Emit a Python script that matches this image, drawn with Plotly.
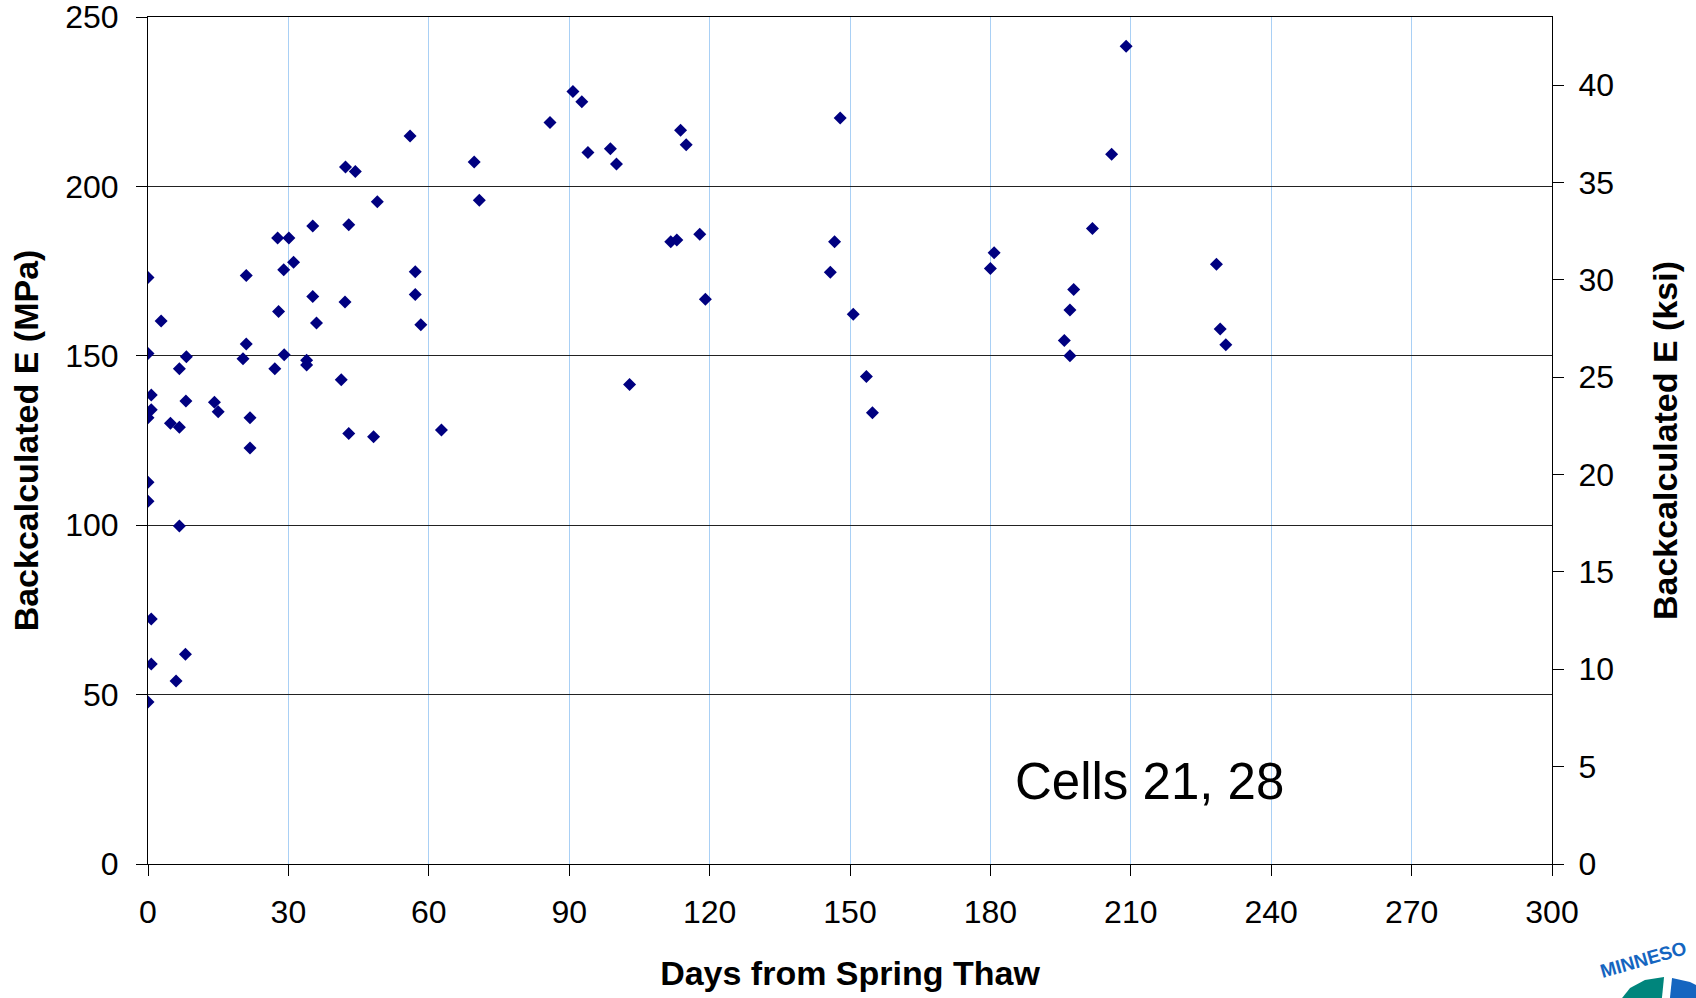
import plotly.graph_objects as go

# ---- data ----
days = [0, 2.8, 0, 8.2, 6.7, 0.7, 8.1, 0.7, 0, 4.8, 6.7, 0, 0, 6.7, 0.7, 8.0, 0.7, 6.0, 0,
        14.2, 15.0, 21.0, 21.0, 20.3, 21.8, 21.8, 27.7, 30.1, 29.0, 31.1, 27.9, 29.1, 27.1,
        33.9, 33.9, 35.2, 35.2, 36.0, 41.3, 42.9, 42.1, 42.9, 42.2, 44.3, 49.0, 48.2, 56.0,
        57.1, 57.1, 58.3,
        62.7, 69.7, 70.8, 85.9, 90.8, 92.7, 94.0, 98.8, 100.1, 102.9, 111.7, 113.0, 113.8,
        115.0, 117.9, 119.1,
        145.8, 146.7, 147.9, 150.7, 153.5, 154.8, 180.0, 180.8, 195.8, 197.0, 197.0, 197.8,
        201.8, 205.9, 209.0, 228.3, 229.1, 230.3]

e_mpa = [173.1, 160.3, 150.7, 149.7, 146.2, 138.4, 136.7, 134.1, 131.7, 130.1, 128.9, 112.7,
         107.1, 99.8, 72.3, 61.9, 59.0, 54.0, 47.8,
         136.3, 133.5, 173.7, 153.5, 149.1, 131.7, 122.8, 184.8, 184.8, 175.4, 177.6, 163.1,
         150.3, 146.2, 148.7, 147.3, 188.3, 167.5, 159.7, 142.9, 188.7, 165.9, 127.1, 205.7,
         204.4, 195.5, 126.1, 214.9, 174.8, 168.1, 159.2,
         128.1, 207.2, 195.9, 218.9, 228.0, 225.0, 210.0, 211.1, 206.6, 141.5, 183.7, 184.2,
         216.6, 212.3, 185.9, 166.7,
         174.7, 183.7, 220.2, 162.3, 143.9, 133.2, 175.8, 180.4, 154.5, 150.0, 163.5, 169.6,
         187.6, 209.5, 241.4, 177.0, 157.9, 153.3]

x_ticks = [0, 30, 60, 90, 120, 150, 180, 210, 240, 270, 300]
y_ticks_mpa = [0, 50, 100, 150, 200, 250]
y_ticks_ksi = [0, 5, 10, 15, 20, 25, 30, 35, 40]
ksi_range_top = 43.5

label_text = "Cells 21, 28"
label_pos = (214, 24.5)
logo_text = "MINNESO"

FONT = "Liberation Sans, Arial, sans-serif"

fig = go.Figure()
fig.add_trace(go.Scatter(
    x=days, y=e_mpa, mode="markers",
    marker=dict(symbol="diamond", size=10, color="#000080", line=dict(width=0)),
    showlegend=False, hoverinfo="x+y"))
# invisible trace to bring up the secondary (ksi) axis
fig.add_trace(go.Scatter(x=[0], y=[0], yaxis="y2", mode="markers",
                         marker=dict(opacity=0), showlegend=False, hoverinfo="skip"))

fig.update_layout(
    width=1696, height=998, autosize=False,
    margin=dict(l=148, r=144, t=17, b=134),
    paper_bgcolor="white", plot_bgcolor="white",
    font=dict(family=FONT, size=32, color="black"),
    xaxis=dict(
        range=[0, 300], tickvals=x_ticks, ticktext=[str(v) for v in x_ticks],
        showgrid=True, gridcolor="#A9D0F5", gridwidth=1,
        showline=True, linecolor="black", linewidth=1, mirror=True,
        ticks="outside", ticklen=11, tickcolor="black",
        ticklabelstandoff=9, zeroline=False, automargin=False,
        ticklabeloverflow="allow",
        title=dict(text="<b>Days from Spring Thaw</b>", font=dict(size=34), standoff=31),
    ),
    yaxis=dict(
        range=[0, 250.01], tickvals=y_ticks_mpa, ticktext=[str(v) for v in y_ticks_mpa],
        showgrid=True, gridcolor="#222222", gridwidth=1,
        showline=True, linecolor="black", linewidth=1,
        ticks="outside", ticklen=11, tickcolor="black",
        ticklabelstandoff=11, zeroline=False, automargin=False,
        ticklabeloverflow="allow",
        title=dict(text="<b>Backcalculated E (MPa)</b>", font=dict(size=34), standoff=16),
    ),
    yaxis2=dict(
        overlaying="y", side="right", range=[0, ksi_range_top],
        tickvals=y_ticks_ksi, ticktext=[str(v) for v in y_ticks_ksi],
        showgrid=False, showline=True, linecolor="black", linewidth=1,
        ticks="outside", ticklen=11, tickcolor="black", ticklabelstandoff=8,
        zeroline=False, automargin=False, ticklabeloverflow="allow",
        title=dict(text="<b>Backcalculated E (ksi)</b>", font=dict(size=34), standoff=40),
    ),
    annotations=[
        dict(x=label_pos[0], y=label_pos[1], xref="x", yref="y",
             text=label_text, showarrow=False,
             font=dict(size=51, family=FONT, color="black")),
        dict(x=1.0695, y=-0.121, xref="paper", yref="paper", text="<b>" + logo_text + "</b>",
             showarrow=False, textangle=-16, xshift=42, yshift=-18,
             font=dict(size=19, family=FONT, color="#1565C0")),
    ],
    shapes=[
        dict(type="path", xref="paper", yref="paper", layer="above",
             path="M 1.0499 -0.1582 L 1.0556 -0.1464 L 1.0662 -0.1370 L 1.0798 -0.1334 "
                  "L 1.0783 -0.1582 Z",
             fillcolor="#00857C", line=dict(width=0)),
        dict(type="path", xref="paper", yref="paper", layer="above",
             path="M 1.0855 -0.1346 L 1.0983 -0.1393 L 1.1026 -0.1429 L 1.1026 -0.1582 "
                  "L 1.0840 -0.1582 Z",
             fillcolor="#1565C0", line=dict(width=0)),
    ],
)

fig.write_html("out.html", config={"displayModeBar": False},
               post_script="document.body.style.margin='0';document.body.style.padding='0';")
